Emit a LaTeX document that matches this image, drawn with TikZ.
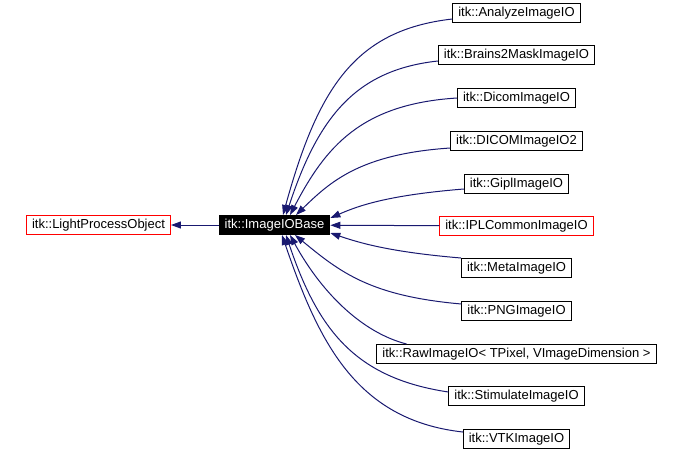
\documentclass[tikz,border=0pt]{standalone}
\usepackage{fontspec}
\setmainfont{Liberation Sans}
\usepackage{xcolor}
\usepackage{tikz}
\usetikzlibrary{arrows.meta,positioning,calc}

\definecolor{edgeblue}{HTML}{191970}

\begin{document}
\begin{tikzpicture}[
    x=1pt, y=-1pt,
    font=\fontsize{13}{15}\selectfont,
    cls/.style={draw, line width=1pt, inner xsep=5.5pt, inner ysep=0pt,
      minimum height=19pt, text height=9.5pt, text depth=2.5pt},
    clsred/.style={cls, draw=red},
    cur/.style={cls, fill=black, text=white},
    edge/.style={-{Triangle[length=10pt,width=7pt]}, edgeblue, line width=1pt},
  ]
    \useasboundingbox (0,0) rectangle (681,451);

    \node[clsred] (lpo) at (98.5,225) {itk::LightProcessObject};
    \node[cur] (base) at (274.5,225) {itk::ImageIOBase};
    \draw[edge] (base) -- (lpo);

    \node[cls] (analyze) at (516.5,13) {itk::AnalyzeImageIO};
    \node[cls] (brains) at (516.5,55) {itk::Brains2MaskImageIO};
    \node[cls] (dicom) at (516.5,98) {itk::DicomImageIO};
    \node[cls] (dicomtwo) at (516.5,141) {itk::DICOMImageIO2};
    \node[cls] (gipl) at (516.5,184) {itk::GiplImageIO};
    \node[clsred] (ipl) at (516.5,226) {itk::IPLCommonImageIO};
    \node[cls] (meta) at (516.5,268) {itk::MetaImageIO};
    \node[cls] (png) at (516.5,311) {itk::PNGImageIO};
    \node[cls] (raw) at (516.5,354) {itk::RawImageIO< TPixel, VImageDimension >};
    \node[cls] (stim) at (516.5,396) {itk::StimulateImageIO};
    \node[cls] (vtk) at (516.5,439) {itk::VTKImageIO};

    % edges from the subclasses into the base class
    \draw[edge] ([yshift=-6pt]analyze.west) .. controls (355,30) and (318,88) .. ([xshift=8.5pt]base.north);
    \draw[edge] ([yshift=-6pt]brains.west) .. controls (355,70) and (318,118) .. ([xshift=11.5pt]base.north);
    \draw[edge] (dicom.west) .. controls (360,104) and (325,148) .. ([xshift=15.5pt]base.north);
    \draw[edge] ([yshift=-7pt]dicomtwo.west) .. controls (360,154) and (330,182) .. ([xshift=21.5pt]base.north);
    \draw[edge] ([yshift=-5pt]gipl.west) .. controls (390,195) and (360,205) .. ([yshift=-3pt]base.north east);
    \draw[edge] (ipl) -- (base);
    \draw[edge] (meta.north west) .. controls (390,252) and (360,243) .. ([yshift=2pt]base.south east);
    \draw[edge] ([yshift=7pt]png.west) .. controls (370,296) and (340,272) .. ([xshift=20.5pt]base.south);
    \draw[edge] ([xshift=-110pt]raw.north) .. controls (360,332) and (320,290) .. ([xshift=15.5pt]base.south);
    \draw[edge] ([yshift=4pt]stim.west) .. controls (355,378) and (318,330) .. ([xshift=11.5pt]base.south);
    \draw[edge] ([yshift=7pt]vtk.west) .. controls (355,420) and (318,340) .. ([xshift=7.5pt]base.south);
  \end{tikzpicture}
\end{document}
